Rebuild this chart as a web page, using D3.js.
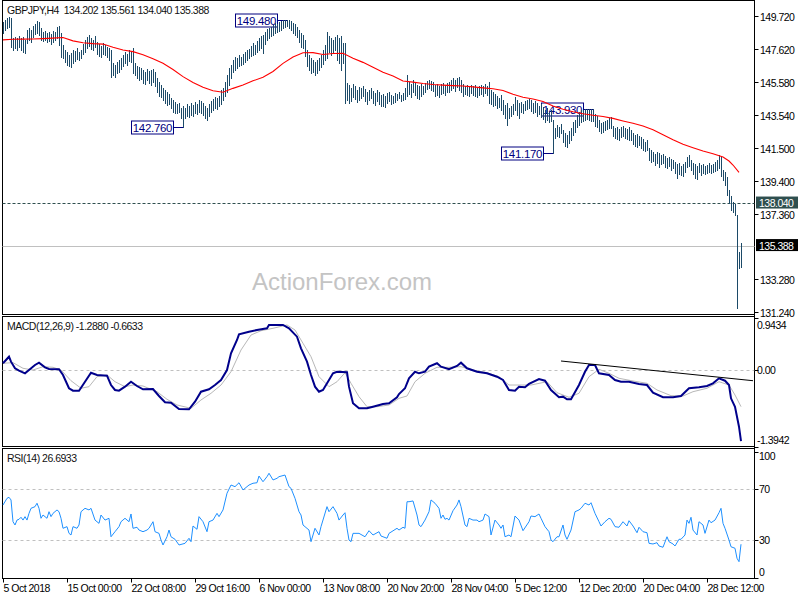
<!DOCTYPE html>
<html><head><meta charset="utf-8">
<script src="https://cdn.jsdelivr.net/npm/d3@7"></script>
<style>
body{margin:0;background:#fff}
svg{display:block}
text{font-family:"Liberation Sans",Arial,sans-serif;white-space:pre;}
</style>
</head><body><svg id="c" width="800" height="600"></svg>
<script>
// ---------------- DATA ----------------
const symbolTitle = "GBPJPY,H4  134.202 135.561 134.040 135.388";
const macdTitle = "MACD(12,26,9) -1.2880 -0.6633";
const rsiTitle = "RSI(14) 26.6933";
const watermark = "ActionForex.com";

const highs = [
149.33,149.45,149.58,149.64,149.58,148.33,148.39,148.33,148.46,148.33,
148.39,148.21,148.83,148.95,148.83,149.08,149.20,149.39,149.33,148.95,
148.70,148.77,148.64,148.70,148.58,148.77,148.70,149.02,149.08,148.64,
147.89,147.58,147.46,147.27,147.40,147.58,147.52,147.71,147.46,147.58,
147.96,148.21,148.39,148.52,148.33,148.21,148.46,148.08,147.96,147.83,
148.02,147.89,147.77,147.71,147.58,146.77,146.65,146.83,146.96,147.08,
147.27,147.46,147.33,147.58,147.46,147.71,146.77,146.58,146.52,146.46,
146.33,146.21,146.40,146.27,146.33,146.40,146.21,145.84,145.59,145.40,
145.21,145.09,144.96,144.84,144.59,144.46,144.34,144.21,144.28,143.96,
144.09,143.96,144.21,144.09,144.28,144.15,144.34,144.21,144.46,144.40,
144.28,144.09,143.96,144.21,144.40,144.53,144.65,144.59,144.71,145.09,
145.21,145.59,146.02,146.46,146.65,146.96,147.15,147.08,147.27,147.15,
147.33,147.46,147.58,147.65,147.83,148.02,147.89,148.14,148.33,148.46,
148.52,148.70,148.89,148.95,149.02,149.14,149.27,149.20,149.33,149.39,
149.45,149.45,149.48,149.45,149.39,149.27,149.20,149.02,148.83,148.64,
148.52,148.21,147.58,147.27,147.08,146.96,146.83,146.96,147.08,147.27,
147.58,147.89,148.70,148.46,148.33,148.21,148.39,148.52,148.33,148.46,
148.02,148.02,145.52,145.40,145.21,145.46,145.34,145.09,145.27,145.21,
145.34,145.15,144.96,145.09,145.21,145.02,144.90,145.09,144.96,144.77,
144.84,144.71,144.90,144.96,144.77,144.71,144.90,144.84,144.96,144.77,
144.90,145.21,146.02,145.59,145.46,145.71,145.59,145.40,145.34,145.46,
145.34,145.52,145.65,145.71,145.65,145.59,145.40,145.46,145.34,145.46,
145.52,145.40,145.52,145.59,145.71,145.84,145.71,145.84,145.90,145.71,
145.46,145.34,145.40,145.27,145.40,145.34,145.40,145.27,145.34,145.40,
145.34,145.46,145.34,145.59,145.09,144.96,144.84,144.71,144.59,144.77,
144.46,144.15,144.28,143.96,144.09,144.21,144.65,144.46,144.28,144.34,
144.21,144.40,144.46,144.53,144.46,144.28,144.40,144.28,144.09,144.21,
144.03,143.84,143.96,143.71,143.84,143.22,142.72,142.90,142.78,142.97,
142.59,142.41,142.28,142.53,142.72,143.09,143.22,143.53,143.71,143.84,
143.84,143.88,143.90,143.89,143.91,143.93,143.59,143.46,143.22,143.03,
143.09,143.15,143.22,143.34,143.40,142.84,142.72,142.78,142.65,142.78,
142.84,142.72,142.65,142.78,142.59,142.41,142.28,142.34,142.22,142.16,
142.03,141.84,141.97,141.47,141.35,141.22,141.10,141.22,141.16,141.03,
141.10,140.97,140.85,140.91,140.79,140.72,140.60,140.47,140.54,140.35,
140.47,140.60,140.91,141.03,140.72,140.54,140.47,140.35,140.54,140.41,
140.47,140.35,140.41,140.54,140.41,140.47,140.60,140.72,141.03,140.97,
140.10,139.98,139.66,138.85,138.48,138.11,137.98,137.30,134.99,135.561];

const lows = [
148.64,148.83,148.95,149.02,147.77,147.58,147.71,147.58,147.77,147.58,
147.46,147.40,148.02,148.21,148.08,148.39,148.58,148.64,148.52,148.21,
148.14,148.21,148.08,148.14,147.96,148.08,148.21,148.33,147.89,147.15,
147.08,146.83,146.65,146.58,146.52,146.77,146.90,147.02,146.96,147.08,
147.33,147.46,147.71,147.83,147.65,147.58,147.77,147.33,147.21,147.15,
147.33,147.27,147.15,146.96,145.90,146.02,145.90,146.15,146.21,146.40,
146.58,146.77,146.65,146.90,146.83,146.15,146.02,145.84,145.71,145.77,
145.52,145.46,145.71,145.52,145.40,145.59,145.34,144.96,144.71,144.65,
144.46,144.28,144.15,144.21,143.96,143.71,143.65,143.65,143.71,143.34,
142.76,143.34,143.46,143.40,143.53,143.46,143.65,143.59,143.71,143.65,
143.53,143.34,143.22,143.46,143.71,143.84,143.96,143.90,144.09,144.21,
144.46,144.71,144.96,145.40,145.84,146.21,146.33,146.46,146.58,146.65,
146.71,146.83,146.96,147.08,147.21,147.27,147.33,147.46,147.58,147.71,
147.40,147.96,148.21,148.33,148.46,148.52,148.64,148.70,148.77,148.83,
148.95,149.02,149.08,148.95,148.83,148.64,148.52,148.39,148.08,147.77,
147.71,147.21,146.58,146.33,146.15,146.21,146.02,146.15,146.33,146.52,
146.71,146.96,147.08,147.46,147.27,147.40,147.58,146.96,146.77,146.33,
146.77,144.28,144.46,144.28,144.40,144.65,144.53,144.34,144.46,144.59,
144.71,144.40,144.21,144.46,144.59,144.28,144.15,144.40,144.21,144.09,
144.09,144.03,144.28,144.40,144.21,144.28,144.34,144.46,144.59,144.40,
144.46,144.53,144.71,144.84,144.65,144.96,144.77,144.59,144.53,144.71,
144.84,144.96,145.15,145.21,145.09,145.02,144.71,144.77,144.65,144.84,
144.90,144.77,144.96,144.96,145.09,145.21,145.02,145.27,145.09,144.96,
144.71,144.84,144.77,144.71,144.90,144.77,144.71,144.65,144.77,144.84,
144.71,144.90,144.77,144.28,144.21,144.09,144.15,143.96,144.03,143.84,
143.59,143.34,142.90,143.34,143.46,143.59,143.84,143.53,143.34,143.71,
143.65,143.84,143.90,143.96,143.78,143.65,143.71,143.46,143.59,143.40,
143.28,143.09,143.22,143.09,143.15,141.17,142.09,142.22,142.16,142.41,
141.84,141.60,141.53,141.78,141.97,142.28,142.47,142.78,142.90,143.09,
143.15,143.22,143.28,143.22,143.15,143.15,142.84,142.78,142.53,142.41,
142.47,142.59,142.65,142.72,142.72,142.22,142.09,142.03,141.97,142.16,
142.22,142.09,142.03,141.97,141.97,141.72,141.60,141.53,141.66,141.47,
141.35,141.28,141.35,140.72,140.60,140.66,140.41,140.54,140.29,140.47,
140.54,140.29,140.22,140.35,140.10,140.22,139.91,139.60,139.85,139.79,
139.73,139.98,140.29,140.35,140.10,139.85,139.60,139.54,139.98,139.79,
139.91,139.85,139.91,139.98,139.91,139.98,140.04,140.10,140.22,139.73,
139.48,139.17,138.54,138.04,137.61,137.48,137.30,131.50,133.99,134.040];

// moving average [bar, price]
const maLine = [[0,148.21],[5,148.25],[10,148.26],[15,148.27],[20,148.29],[25,148.32],[30,148.36],[35,148.15],[40,148.03],[45,147.98],[50,147.95],[55,147.75],[60,147.58],[65,147.48],[70,147.28],[75,147.04],[80,146.75],[85,146.37],[90,145.92],[95,145.56],[100,145.26],[105,145.04],[110,144.95],[115,145.19],[120,145.40],[125,145.66],[130,145.88],[135,146.24],[140,146.75],[145,147.14],[150,147.41],[155,147.42],[160,147.30],[165,147.36],[170,147.38],[175,147.07],[180,146.81],[185,146.50],[190,146.20],[195,145.96],[200,145.65],[205,145.58],[210,145.49],[215,145.43],[220,145.39],[225,145.36],[230,145.34],[235,145.28],[240,145.22],[245,145.17],[250,145.06],[255,144.82],[260,144.64],[265,144.53],[270,144.37],[275,144.09],[280,143.89],[285,143.73],[290,143.61],[295,143.51],[300,143.44],[305,143.32],[310,143.16],[315,143.01],[320,142.84],[325,142.61],[330,142.30],[335,141.98],[340,141.70],[345,141.49],[350,141.29],[355,141.11],[360,140.91],[363,140.66],[365,140.41],[368,139.95]];

// MACD main and signal [bar, value]
const macdMain = [[0,0.123],[3,0.242],[4,0.152],[6,0.032],[8,-0.011],[11,-0.059],[13,0.001],[16,0.092],[18,0.134],[21,0.050],[23,0.019],[28,0.014],[30,-0.089],[33,-0.330],[35,-0.374],[38,-0.374],[41,-0.211],[44,-0.048],[47,-0.089],[52,-0.102],[54,-0.271],[56,-0.361],[58,-0.374],[61,-0.301],[64,-0.211],[67,-0.289],[70,-0.348],[75,-0.343],[78,-0.470],[81,-0.584],[84,-0.591],[88,-0.705],[93,-0.711],[96,-0.573],[99,-0.392],[103,-0.348],[106,-0.271],[109,-0.180],[112,0.001],[114,0.304],[117,0.545],[118,0.648],[123,0.695],[127,0.726],[132,0.757],[133,0.817],[140,0.817],[143,0.757],[147,0.605],[149,0.394],[152,0.152],[154,-0.089],[156,-0.301],[158,-0.392],[160,-0.361],[163,-0.180],[165,-0.059],[167,-0.030],[172,-0.040],[173,-0.301],[175,-0.602],[178,-0.693],[182,-0.693],[185,-0.664],[190,-0.615],[193,-0.602],[197,-0.493],[198,-0.434],[201,-0.330],[203,-0.149],[206,-0.030],[208,-0.059],[211,-0.030],[213,0.061],[217,0.123],[219,0.061],[223,0.014],[227,0.074],[229,0.134],[232,0.032],[237,-0.030],[242,-0.059],[247,-0.120],[250,-0.180],[253,-0.361],[256,-0.374],[258,-0.301],[261,-0.312],[263,-0.252],[268,-0.162],[271,-0.193],[274,-0.361],[278,-0.493],[280,-0.482],[282,-0.530],[284,-0.530],[288,-0.271],[291,-0.030],[293,0.092],[296,0.092],[298,-0.059],[303,-0.089],[306,-0.180],[309,-0.211],[313,-0.211],[318,-0.252],[322,-0.271],[325,-0.410],[330,-0.493],[335,-0.493],[339,-0.470],[343,-0.330],[348,-0.312],[352,-0.289],[355,-0.240],[358,-0.149],[361,-0.193],[363,-0.271],[364,-0.512],[366,-0.664],[368,-1.026],[369,-1.288]];
const macdSignal = [[0,0.123],[5,0.134],[10,0.032],[15,0.001],[20,0.061],[25,0.050],[29,0.001],[34,-0.193],[39,-0.330],[43,-0.301],[47,-0.120],[52,-0.089],[56,-0.211],[61,-0.301],[65,-0.271],[70,-0.289],[77,-0.392],[82,-0.530],[87,-0.633],[94,-0.693],[99,-0.542],[104,-0.421],[109,-0.271],[114,-0.030],[119,0.364],[124,0.635],[129,0.713],[135,0.757],[142,0.817],[146,0.726],[150,0.485],[154,0.242],[158,-0.120],[163,-0.301],[167,-0.211],[171,-0.048],[174,-0.240],[178,-0.482],[182,-0.664],[187,-0.664],[193,-0.633],[198,-0.512],[202,-0.470],[206,-0.211],[211,-0.059],[217,0.050],[223,0.050],[229,0.061],[235,0.001],[242,-0.048],[248,-0.120],[253,-0.271],[258,-0.271],[264,-0.271],[272,-0.211],[277,-0.410],[283,-0.493],[288,-0.421],[293,-0.120],[298,0.014],[303,-0.059],[308,-0.149],[315,-0.198],[322,-0.240],[327,-0.361],[334,-0.464],[340,-0.470],[345,-0.392],[352,-0.330],[358,-0.211],[363,-0.271],[366,-0.452],[369,-0.663]];
const macdTrend = [[279,0.164],[375,-0.193]];

// RSI [bar, value]
const rsiLine = [[0,57.7],[2,63.0],[3,63.8],[4,61.7],[5,44.5],[6,41.9],[7,45.8],[8,46.4],[9,48.0],[10,45.8],[11,48.5],[12,45.8],[13,51.1],[14,55.1],[16,56.4],[17,59.1],[18,55.1],[19,47.2],[20,49.8],[22,47.2],[23,52.4],[24,48.5],[25,51.1],[27,53.8],[28,52.4],[29,47.2],[30,39.3],[32,40.6],[33,35.3],[34,34.0],[35,40.6],[37,39.3],[38,41.9],[39,52.4],[41,55.1],[43,53.8],[44,55.1],[46,45.8],[48,43.2],[49,49.8],[51,45.8],[53,47.2],[54,32.6],[56,36.6],[58,40.6],[59,44.5],[61,47.2],[63,44.5],[64,50.6],[65,39.3],[67,40.1],[68,37.9],[70,36.6],[72,37.9],[73,39.3],[75,44.5],[76,36.6],[78,35.3],[79,30.0],[80,26.1],[82,32.6],[83,37.9],[84,32.6],[86,30.6],[88,26.1],[91,27.4],[93,31.4],[94,28.7],[95,41.1],[97,38.5],[98,48.5],[100,44.5],[102,36.6],[103,44.5],[105,45.8],[107,51.1],[108,48.5],[110,53.8],[112,67.0],[114,73.5],[116,72.2],[118,75.3],[120,69.6],[123,73.5],[125,74.9],[127,75.3],[128,80.6],[130,76.1],[132,80.1],[133,82.8],[135,77.5],[137,78.8],[138,80.1],[141,81.4],[143,72.2],[144,70.9],[146,63.0],[148,52.4],[149,49.8],[150,41.9],[153,37.9],[154,28.7],[156,39.3],[158,34.0],[159,40.6],[162,56.4],[163,52.4],[165,56.4],[167,51.1],[168,45.8],[170,49.8],[171,51.6],[172,39.3],[173,30.0],[174,28.7],[175,35.3],[178,35.3],[181,32.6],[183,37.4],[185,34.0],[188,36.6],[189,33.2],[192,31.4],[193,35.3],[197,39.3],[198,37.9],[200,40.1],[201,39.3],[202,60.3],[203,60.3],[205,60.9],[207,49.8],[208,41.9],[209,40.6],[211,45.8],[213,52.4],[214,61.7],[216,59.1],[218,55.1],[219,47.2],[220,49.8],[221,46.4],[222,47.2],[223,45.8],[225,53.2],[227,57.7],[228,61.7],[229,56.4],[231,41.9],[232,40.6],[233,47.2],[235,45.8],[237,45.8],[238,44.5],[240,45.8],[241,50.6],[243,48.5],[244,34.0],[246,45.8],[248,41.9],[249,39.3],[250,41.9],[251,32.6],[253,34.0],[254,32.6],[256,49.0],[258,45.8],[260,37.4],[263,44.5],[264,49.0],[266,48.5],[268,50.6],[269,47.2],[271,40.6],[273,36.6],[274,30.0],[275,28.7],[277,32.6],[278,32.6],[280,41.9],[281,34.0],[282,30.6],[284,37.9],[286,52.4],[288,53.8],[289,55.1],[291,59.1],[293,57.7],[294,59.5],[296,51.1],[298,44.5],[299,41.1],[301,44.5],[303,47.2],[304,46.4],[306,40.6],[308,40.1],[310,44.5],[312,41.1],[313,45.3],[315,41.1],[317,35.8],[318,40.1],[320,36.6],[322,35.8],[323,27.4],[325,26.9],[327,27.9],[328,25.3],[330,24.3],[332,32.6],[333,28.7],[335,26.9],[336,25.3],[338,30.6],[339,30.6],[341,34.0],[342,45.8],[343,43.2],[344,48.0],[345,37.9],[347,34.0],[348,44.5],[350,41.9],[351,35.3],[353,45.8],[354,43.7],[356,45.8],[358,51.6],[359,55.1],[360,43.2],[361,39.3],[363,30.0],[364,24.7],[366,23.5],[367,15.6],[368,12.9],[369,26.7]];

// axes / labels
const priceTicks = [149.72,147.62,145.58,143.54,141.50,139.40,137.36,133.28,131.24];
const priceDomain = [131.24,149.72];
const macdDomain = [-1.3942,0.9434];
const macdTickLabels = ["0.9434","0.00","-1.3942"];
const macdTickValues = [0.9434,0,-1.3942];
const rsiTicks = [100,70,30,0];
const rsiLevels = [70,30];
const timeIdx = [0,32,64,96,128,160,192,224,256,288,320,352];
const timeLabels = ["5 Oct 2018","15 Oct 00:00","22 Oct 08:00","29 Oct 16:00","6 Nov 00:00","13 Nov 08:00","20 Nov 20:00","28 Nov 04:00","5 Dec 12:00","12 Dec 20:00","20 Dec 04:00","28 Dec 12:00"];
const markBars = [142,90,295,275];
const markPrices = [149.48,142.76,143.93,141.17];
const markTexts = ["149.480","142.760","143.930","141.170"];
const supportLevel = 138.04;
const bidPrice = 135.388;

// ---------------- DRAW ----------------
const svg = d3.select("#c");
const L = 2.5, R = 754.5;
const mainTop = 0.5, mainBot = 314.5;
const macdTop = 316.5, macdBot = 446.5;
const rsiTop = 448.5, rsiBot = 578.5;

const x = d3.scaleLinear().domain([0, highs.length - 1]).range([3, 741]);
const px = i => Math.round(x(i)) + 0.5;
const yP = d3.scaleLinear().domain(priceDomain).range([312.1, 15.7]);
const yM = d3.scaleLinear().domain(macdDomain).range([447, 318]);
const yR = d3.scaleLinear().domain([0,100]).range([578, 451.5]);

const FONT = "10.5px";
function label(t, xx, yy, opts={}) {
  return svg.append("text").attr("x", xx).attr("y", yy).text(t)
    .attr("font-size", opts.size || FONT)
    .attr("letter-spacing", opts.ls !== undefined ? opts.ls : "-0.5px")
    .attr("fill", opts.fill || "#000")
    .attr("text-anchor", opts.anchor || "start");
}

// watermark
svg.append("text").attr("x", 252).attr("y", 290).text(watermark)
  .attr("font-size", "24px").attr("fill", "#c4c4c4");

// panel frames
[[mainTop, mainBot],[macdTop, macdBot],[rsiTop, rsiBot]].forEach(([t,b]) => {
  svg.append("rect").attr("x", L).attr("y", t).attr("width", R - L).attr("height", b - t)
    .attr("fill", "none").attr("stroke", "#000").attr("stroke-width", 1);
});
svg.append("line").attr("x1", R).attr("x2", R).attr("y1", 0).attr("y2", rsiBot)
  .attr("stroke", "#000");

// level lines
svg.append("line").attr("x1", L).attr("x2", R).attr("y1", Math.round(yP(supportLevel)) + 0.5).attr("y2", Math.round(yP(supportLevel)) + 0.5)
  .attr("stroke", "#2f4f4f").attr("stroke-dasharray", "3,2");
svg.append("line").attr("x1", L).attr("x2", R).attr("y1", Math.round(yP(bidPrice)) + 0.5).attr("y2", Math.round(yP(bidPrice)) + 0.5)
  .attr("stroke", "#c0c0c0");
svg.append("line").attr("x1", L).attr("x2", R).attr("y1", Math.round(yM(0)) + 0.5).attr("y2", Math.round(yM(0)) + 0.5)
  .attr("stroke", "#c0c0c0").attr("stroke-dasharray", "3,3");
rsiLevels.forEach(v => {
  svg.append("line").attr("x1", L).attr("x2", R).attr("y1", Math.round(yR(v)) + 0.5).attr("y2", Math.round(yR(v)) + 0.5)
    .attr("stroke", "#c0c0c0").attr("stroke-dasharray", "3,3");
});

// annotation boxes
markBars.forEach((b, k) => {
  const bx = px(b), yy = Math.round(yP(markPrices[k])) + 0.5;
  const w = 42, h = 13;
  const rx = bx - 10 - w;
  svg.append("line").attr("x1", rx + w).attr("x2", bx).attr("y1", yy).attr("y2", yy)
    .attr("stroke", "#000080");
  svg.append("rect").attr("x", rx).attr("y", yy - 6.5).attr("width", w).attr("height", h)
    .attr("fill", "#fff").attr("stroke", "#000080");
  label(markTexts[k], rx + w / 2, yy + 4.5, {size: "11.5px", fill: "#000080", anchor: "middle", ls: "-0.3px"});
});

// price bars
svg.append("g").selectAll("line").data(highs).join("line")
  .attr("x1", (d, i) => px(i)).attr("x2", (d, i) => px(i))
  .attr("y1", d => yP(d)).attr("y2", (d, i) => yP(lows[i]) + 1)
  .attr("stroke", "#1c4a68").attr("stroke-width", 1)
  .attr("shape-rendering", "crispEdges");

// moving average
svg.append("path").datum(maLine)
  .attr("d", d3.line().x(d => x(d[0])).y(d => yP(d[1])))
  .attr("fill", "none").attr("stroke", "#ff0000").attr("stroke-width", 1.1);

// MACD
svg.append("path").datum(macdSignal)
  .attr("d", d3.line().x(d => x(d[0])).y(d => yM(d[1])))
  .attr("fill", "none").attr("stroke", "#b8b8b8").attr("stroke-width", 1);
svg.append("path").datum(macdMain)
  .attr("d", d3.line().x(d => x(d[0])).y(d => yM(d[1])))
  .attr("fill", "none").attr("stroke", "#00008b").attr("stroke-width", 2);
svg.append("path").datum(macdTrend)
  .attr("d", d3.line().x(d => Math.min(x(d[0]), R)).y(d => yM(d[1])))
  .attr("fill", "none").attr("stroke", "#000").attr("stroke-width", 1);

// RSI
svg.append("path").datum(rsiLine)
  .attr("d", d3.line().x(d => x(d[0])).y(d => yR(d[1])))
  .attr("fill", "none").attr("stroke", "#1e90ff").attr("stroke-width", 1);

// right price axis
priceTicks.forEach(v => {
  const yy = Math.round(yP(v)) + 0.5;
  svg.append("line").attr("x1", R).attr("x2", R + 4).attr("y1", yy).attr("y2", yy).attr("stroke", "#000");
  label(v.toFixed(3), 760, yy + 4);
});
// support & bid labels
{
  const ys = yP(supportLevel);
  svg.append("rect").attr("x", 756).attr("y", ys - 6.5).attr("width", 42).attr("height", 12).attr("fill", "#2f4f4f");
  label(supportLevel.toFixed(3), 759, ys + 4, {fill: "#fff"});
  const yb = yP(bidPrice);
  svg.append("rect").attr("x", 756).attr("y", yb - 6.5).attr("width", 42).attr("height", 12).attr("fill", "#000");
  label(bidPrice.toFixed(3), 759, yb + 4, {fill: "#fff"});
}
// MACD axis labels
macdTickValues.forEach((v, k) => {
  const yy = yM(v);
  const ty = k === 0 ? yy + 11 : (k === 2 ? yy - 3 : yy + 4);
  svg.append("line").attr("x1", R).attr("x2", R + 4).attr("y1", Math.round(yy) + 0.5).attr("y2", Math.round(yy) + 0.5).attr("stroke", "#000");
  label(macdTickLabels[k], 757, ty);
});
// RSI axis labels
rsiTicks.forEach(v => {
  const yy = yR(v);
  const ty = v === 100 ? yy + 8 : (v === 0 ? yy - 2 : yy + 4);
  svg.append("line").attr("x1", R).attr("x2", R + 4).attr("y1", Math.round(yy) + 0.5).attr("y2", Math.round(yy) + 0.5).attr("stroke", "#000");
  label(String(v), 759, ty);
});

// time axis
timeIdx.forEach((b, k) => {
  const xx = px(b);
  svg.append("line").attr("x1", xx).attr("x2", xx).attr("y1", rsiBot).attr("y2", rsiBot + 4).attr("stroke", "#000");
  label(timeLabels[k], xx, 592);
});

// titles
label(symbolTitle, 7, 13.5, {fill: "#111"});
label(macdTitle, 7, 330, {fill: "#111"});
label(rsiTitle, 7, 462, {fill: "#111"});
</script>
</body></html>
